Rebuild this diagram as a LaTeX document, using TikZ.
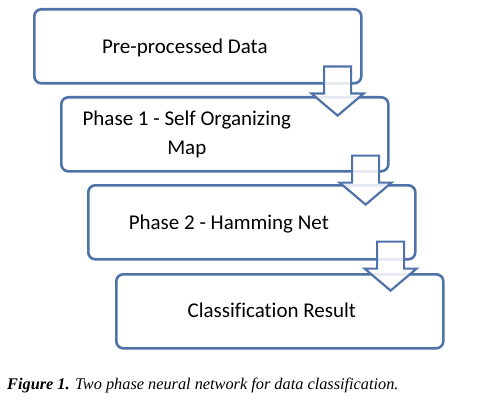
\documentclass[tikz,border=0pt]{standalone}
\usepackage{fontspec}
\setmainfont[Ligatures=NoCommon]{Carlito}
\newfontfamily\capfont{Liberation Serif}
\usetikzlibrary{positioning,calc}
\definecolor{boxblue}{RGB}{79,114,168}
\tikzset{phase/.style={draw=boxblue, line width=2.6pt, rounded corners=7pt, minimum width=327pt, minimum height=74pt, anchor=north west, inner sep=0pt},
	phasetext/.style={font=\fontsize{21}{29}\selectfont, align=center, inner sep=0pt},
	flow/.style={draw=boxblue, line width=2.2pt, fill=white, fill opacity=0.85, line join=miter}}
% block arrow pointing down, tip at #1
\newcommand{\flowarrow}[1]{\draw[flow] (#1) -- +(-26,-22) -- +(-13.5,-22) -- +(-13.5,-49) -- +(13.5,-49) -- +(13.5,-22) -- +(26,-22) -- cycle;}

\begin{document}
\begin{tikzpicture}[x=1pt,y=-1pt]
\useasboundingbox (0,0) rectangle (479,401);
\begin{scope}
	\node[phase] (data) at (33,8) {};
	\node[phase] (som) at (60,96) {};
	\node[phase] (hamming) at (87,184) {};
	\node[phase] (result) at (115,273) {};
\tikzset{anchor=base}
\node[phasetext] at ([xshift=-13pt,yshift=-7pt]data.center) {Pre-processed Data};
\node[phasetext, anchor=center] at ([xshift=-38pt]som.center) {Phase 1 - Self Organizing\\Map};
\node[phasetext] at ([xshift=-23pt,yshift=-7pt]hamming.center) {Phase 2 - Hamming Net};
\node[phasetext] at ([xshift=-8pt,yshift=-6.5pt]result.center) {Classification Result};
  % arrows between the phases
\coordinate (tip1) at ($(data.south east)+(-25,31)$);
\coordinate (tip2) at ($(som.south east)+(-24,32)$);
\coordinate (tip3) at ($(hamming.south east)+(-26,30)$);
\flowarrow{tip1}
\flowarrow{tip2}
\flowarrow{tip3}
\node[anchor=base west, inner sep=0pt, font=\capfont\fontsize{16.3}{19}\selectfont\itshape] (caption) at (7,389) {\textbf{Figure 1.} Two phase neural network for data classification.};
\end{scope}
\end{tikzpicture}
\end{document}
